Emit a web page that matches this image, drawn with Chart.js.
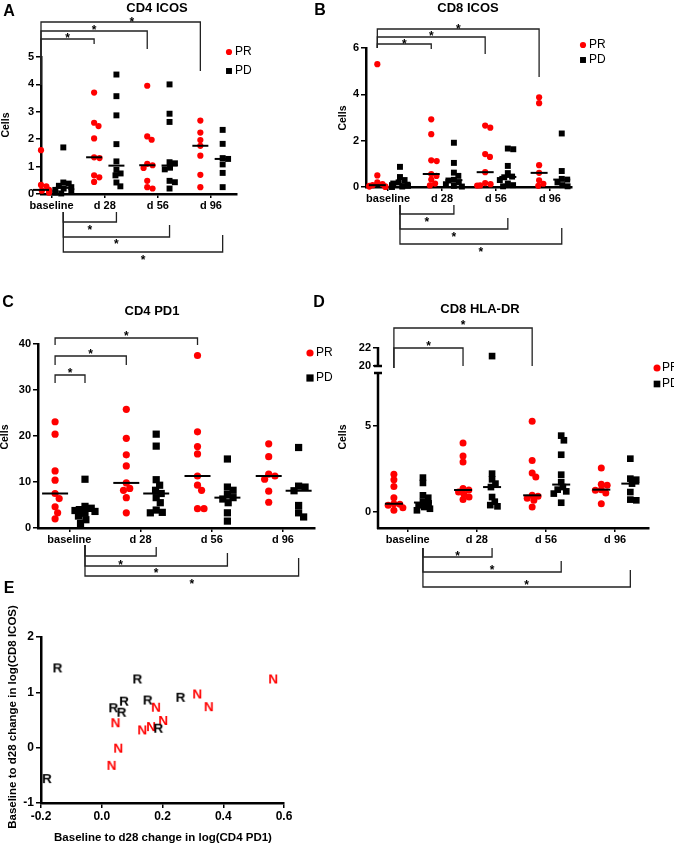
<!DOCTYPE html>
<html><head><meta charset="utf-8">
<script src="https://cdn.jsdelivr.net/npm/chart.js@4/dist/chart.umd.min.js"></script>
<style>
html,body{margin:0;padding:0;background:#fff;}
#wrap{position:relative;width:674px;height:847px;overflow:hidden;background:#fff;}
#wrap canvas{position:absolute;left:0;top:0;}
</style></head><body>
<div id="wrap">
<canvas id="cA" width="674" height="847"></canvas>
<canvas id="cB" width="674" height="847"></canvas>
<canvas id="cC" width="674" height="847"></canvas>
<canvas id="cD" width="674" height="847"></canvas>
<canvas id="cE" width="674" height="847"></canvas>
</div>
<script>
// ---------- DATA ----------
const groups = ['baseline', 'd 28', 'd 56', 'd 96'];

// A: CD4 ICOS (per group: baseline, d28, d56, d96)
const A_PR = [[1.6,0.33,0.28,0.2,0.15,0.12,0.08,0.05,0.02],[3.7,2.6,2.48,2.03,1.34,1.31,0.68,0.61,0.44],[3.95,2.1,1.98,1.1,1.05,0.95,0.48,0.25,0.2],[2.68,2.24,1.97,1.76,1.4,0.7,0.25]];
const A_PD = [[1.7,0.42,0.38,0.3,0.25,0.2,0.15,0.1,0.05,0.02],[4.36,3.57,2.87,1.82,1.19,0.88,0.75,0.68,0.42,0.28],[4.0,2.93,2.63,1.16,1.12,0.96,0.9,0.48,0.43,0.2],[2.34,1.83,1.31,1.28,1.08,0.77,0.25]];
const A_YTICKS = [0,1,2,3,4,5];

// B: CD8 ICOS
const B_PR = [[5.3,0.5,0.2,0.12,0.08,0.05,0.03,0.02,0.0],[2.92,2.28,1.15,1.12,0.56,0.48,0.32,0.15,0.07],[2.65,2.56,1.42,1.3,0.64,0.17,0.12,0.07,0.06],[3.87,3.62,0.94,0.61,0.29,0.14,0.05]];
const B_PD = [[0.87,0.43,0.3,0.2,0.15,0.1,0.08,0.05,0.02,0.0],[1.91,1.04,0.62,0.48,0.31,0.28,0.2,0.12,0.05,0.02],[1.66,1.63,0.91,0.6,0.45,0.42,0.3,0.15,0.08,0.03],[2.31,0.69,0.35,0.32,0.2,0.08,0.03]];
const B_YTICKS = [0,2,4,6];

// C: CD4 PD1
const C_PR = [[23.1,20.4,12.4,10.4,7.5,6.4,4.6,3.3,2.0],[25.8,19.5,15.9,13.5,9.8,8.6,8.2,6.6,3.3],[37.5,20.9,17.7,16.1,11.3,9.3,8.2,4.2,4.2],[18.3,15.5,11.7,11.3,10.6,8.0,5.6]];
const C_PD = [[10.6,4.7,4.3,4.0,3.8,3.6,3.2,2.6,1.8,1.0],[20.4,17.8,10.5,9.3,8.2,7.5,6.6,5.5,3.9,3.4,3.3],[15.0,8.9,8.2,7.3,6.6,6.3,5.5,3.3,1.5],[17.5,9.1,8.9,8.1,4.9,3.3,2.4]];
const C_YTICKS = [0,10,20,30,40];

// D: CD8 HLA-DR (broken axis)
const D_PR = [[2.19,1.88,1.49,0.83,0.48,0.45,0.39,0.25,0.1],[4.01,3.26,2.91,1.36,1.28,1.16,1.03,0.87,0.72],[5.27,3.0,2.27,2.03,0.97,0.91,0.8,0.68,0.29],[2.56,1.61,1.55,1.3,1.26,1.1,0.48]];
const D_PD = [[2.0,1.69,0.97,0.83,0.6,0.5,0.39,0.29,0.19,0.1],[21.1,2.23,1.9,1.65,1.45,0.87,0.6,0.4,0.33],[4.44,4.17,3.33,2.17,1.74,1.45,1.3,1.2,1.07,0.54],[3.1,1.94,1.88,1.65,1.16,0.72,0.68]];
const D_YTICKS_LOW = [0,5];
const D_YTICKS_HIGH = [20,22];

// E: scatter of changes
const E_R_X = [-0.146,0.117,0.073,0.038,0.065,0.151,0.259,0.186,-0.181];
const E_R_Y = [1.45,1.25,0.85,0.73,0.65,0.87,0.92,0.36,-0.55];
const E_N_X = [0.564,0.314,0.352,0.178,0.202,0.162,0.133,0.045,0.054,0.032];
const E_N_Y = [1.25,0.98,0.75,0.74,0.50,0.39,0.33,0.46,0.0,-0.31];
const E_XTICKS = [-0.2,0,0.2,0.4,0.6];
const E_YTICKS = [-1,0,1,2];

// ---------- RENDER ----------
const FONT = "'Liberation Sans', Arial, Helvetica, sans-serif";
const RED = 'rgb(255,0,0)';
const YW = 30, XH = 20, CW = 674, CH = 847;
const PRo = -0.2, PDo = 0.22;
const PR = g => g + PRo, PD = g => g + PDo;
Chart.defaults.animation = false;
Chart.defaults.font.family = FONT;

function median(a){ const s=[...a].sort((x,y)=>x-y); const n=s.length; return n%2? s[(n-1)/2] : (s[n/2-1]+s[n/2])/2; }

// beeswarm-style horizontal spreading (pixel offsets)
function swarm(vals, pyu, d, cap){
  const order = vals.map((v,i)=>i).sort((a,b)=>vals[b]-vals[a]);
  const placed=[]; const off=new Array(vals.length).fill(0);
  for(const i of order){
    const y = vals[i]*pyu; const ivs=[];
    for(const p of placed){ const dy=Math.abs(p.y-y); if(dy<d){ const w=Math.sqrt(d*d-dy*dy); ivs.push([p.x-w,p.x+w]); } }
    const cands=[0]; ivs.forEach(([a,b])=>cands.push(a,b));
    cands.sort((a,b)=>Math.abs(a)-Math.abs(b) || b-a);
    let x=0;
    for(const c of cands){ if(ivs.every(([a,b])=> c<=a+1e-6 || c>=b-1e-6)){ x=c; break; } }
    x=Math.max(-cap,Math.min(cap,x));
    placed.push({x,y}); off[i]=x;
  }
  return off;
}

function pts(arr, side, p, filter){
  const pxu = (p.area.r-p.area.l)/(p.x[1]-p.x[0]);
  const pyu = (p.area.b-p.area.t)/(p.y[1]-p.y[0]);
  const out=[];
  arr.forEach((vals,g)=>{
    const low = vals.filter(v=>v<p.breakAt);
    const off = swarm(low, pyu, p.swarmD, p.swarmCap);
    let k=0;
    vals.forEach(v=>{
      let o=0; if(v<p.breakAt){ o=off[k++]; }
      if(filter(v)) out.push({x:g+side+o/pxu, y:v});
    });
  });
  return out;
}

function decor(p){
  return {id:'decor'+p.letter, afterDraw(chart){
    const ctx=chart.ctx, xs=chart.scales.x;
    ctx.save();
    ctx.fillStyle='#000'; ctx.textAlign='center';
    ctx.font='bold 16px '+FONT; ctx.textBaseline='alphabetic';
    ctx.fillText(p.letter,p.lx,p.ly);
    if(p.title){ ctx.font='bold 13px '+FONT; ctx.fillText(p.title,p.tx,p.ty); }
    if(p.cells){ ctx.save(); ctx.translate(p.cells.x,p.cells.y); ctx.rotate(-Math.PI/2); ctx.font='bold 10.5px '+FONT; ctx.textBaseline='middle'; ctx.fillText('Cells',0,0); ctx.restore(); }
    if(p.legend){
      const L=p.legend;
      ctx.fillStyle=RED; ctx.beginPath(); ctx.arc(L.x,L.y1,p.dot,0,Math.PI*2); ctx.fill();
      ctx.fillStyle='#000'; const s=p.sq*Math.SQRT1_2; ctx.fillRect(L.x-s,L.y2-s,2*s,2*s);
      ctx.font='12px '+FONT; ctx.textAlign='left'; ctx.textBaseline='middle';
      ctx.fillText('PR',L.x+L.gap,L.y1); ctx.fillText('PD',L.x+L.gap,L.y2);
      ctx.textAlign='center';
    }
    ctx.strokeStyle='#222'; ctx.lineWidth=1.3; ctx.fillStyle='#000';
    (p.brackets||[]).forEach(b=>{
      const xa=xs.getPixelForValue(b.a), xb=xs.getPixelForValue(b.b);
      ctx.beginPath(); ctx.moveTo(xa,b.ya); ctx.lineTo(xa,b.y); ctx.lineTo(xb,b.y); ctx.lineTo(xb,b.yb); ctx.stroke();
      const sx=xa+(xb-xa)*(b.sf||0.5);
      ctx.font='bold 12px '+FONT; ctx.textBaseline='alphabetic'; ctx.fillText('*',sx,b.sy+7);
    });
    if(p.broken){
      const yU=chart.scales.y2, yL=chart.scales.y, x=chart.chartArea.left;
      ctx.strokeStyle='#000'; ctx.lineWidth=2.5;
      ctx.beginPath(); ctx.moveTo(x,yU.getPixelForValue(22)-1); ctx.lineTo(x,yU.getPixelForValue(20)); ctx.stroke();
      ctx.beginPath(); ctx.moveTo(x,yL.top); ctx.lineTo(x,chart.chartArea.bottom+1); ctx.stroke();
      ctx.beginPath(); ctx.moveTo(x-4,yU.getPixelForValue(20)); ctx.lineTo(x+4,yU.getPixelForValue(20));
      ctx.moveTo(x-4,yL.top+1); ctx.lineTo(x+4,yL.top+1); ctx.stroke();
    }
    ctx.restore();
  }};
}

function axisY(p, min, max, ticks, extra){
  return Object.assign({type:'linear', position:'left', min, max,
    afterBuildTicks:s=>{ s.ticks=ticks.map(v=>({value:v})); },
    afterFit:s=>{ s.width=YW; },
    border:{display:true,color:'#000',width:2.5},
    grid:{display:true,drawOnChartArea:false,drawTicks:true,tickLength:5,color:'#000',lineWidth:1.5},
    ticks:{color:'#000',font:{family:FONT,size:p.tickFont||11,weight:'bold'},padding:2,autoSkip:false,callback:v=>String(v)}}, extra||{});
}
function axisX(p, ticks, cb){
  return {type:'linear', position:'bottom', min:p.x[0], max:p.x[1],
    afterBuildTicks:s=>{ s.ticks=ticks.map(v=>({value:v})); },
    afterFit:s=>{ s.height=XH; },
    border:{display:true,color:'#000',width:2.5},
    grid:{display:true,drawOnChartArea:false,drawTicks:true,tickLength:p.xTick||4,color:'#000',lineWidth:1.5},
    ticks:{color:'#000',font:{family:FONT,size:p.tickFont||11,weight:'bold'},padding:1,maxRotation:0,autoSkip:false,callback:cb}};
}
function layout(p){
  return {autoPadding:false,padding:{left:p.area.l-YW,top:p.area.t,right:CW-p.area.r,bottom:CH-p.area.b-XH}};
}

function groupChart(p){
  const lowF = v=>v<p.breakAt, highF = v=>v>=p.breakAt;
  const medPR = p.PR.map((v,g)=>({x:PR(g),y:median(v)}));
  const medPD = p.PD.map((v,g)=>({x:PD(g),y:median(v)}));
  const datasets = [
    {data:medPR, pointStyle:'line', pointRadius:p.med, borderColor:'#000', borderWidth:2, backgroundColor:'#000', clip:false},
    {data:medPD, pointStyle:'line', pointRadius:p.med, borderColor:'#000', borderWidth:2, backgroundColor:'#000', clip:false},
    {data:pts(p.PR,PRo,p,lowF), pointStyle:'circle', pointRadius:p.dot, backgroundColor:RED, borderWidth:0, clip:false},
    {data:pts(p.PD,PDo,p,lowF), pointStyle:'rect', pointRadius:p.sq, backgroundColor:'#000', borderWidth:0, clip:false}
  ];
  const scales = {x:axisX(p,[0,1,2,3],v=>groups[Math.round(v)])};
  if(p.broken){
    scales.y = axisY(p,p.y[0],p.y[1],D_YTICKS_LOW,{stack:'d',stackWeight:p.wLow,border:{display:false}});
    scales.y2 = axisY(p,19.33,22,D_YTICKS_HIGH,{stack:'d',stackWeight:p.wHigh,border:{display:false}});
    datasets.push({data:pts(p.PD,PDo,p,highF), yAxisID:'y2', pointStyle:'rect', pointRadius:p.sq, backgroundColor:'#000', borderWidth:0, clip:false});
  } else {
    scales.y = axisY(p,p.y[0],p.y[1],p.yticks);
  }
  new Chart(document.getElementById(p.id),{type:'scatter',data:{datasets},
    options:{responsive:false,devicePixelRatio:1,events:[],layout:layout(p),scales,
      plugins:{legend:{display:false},tooltip:{enabled:false},title:{display:false}}},
    plugins:[decor(p)]});
}

groupChart({id:'cA',letter:'A',lx:9,ly:16,title:'CD4 ICOS',tx:157,ty:12,
  area:{l:41,r:237,t:57,b:194},x:[-0.2,3.49],y:[0,5],yticks:A_YTICKS,PR:A_PR,PD:A_PD,breakAt:Infinity,
  dot:3.1,sq:4.2,med:8,swarmD:5.5,swarmCap:8,cells:{x:6,y:125},legend:{x:229,y1:52,y2:71,gap:6},
  brackets:[
    {a:PR(0),b:PR(1),y:39,ya:85,yb:44,sy:35},{a:PR(0),b:PR(2),y:31,ya:85,yb:49,sy:27},{a:PR(0),b:PR(3),y:22,ya:85,yb:71,sy:19,sf:0.57},
    {a:PD(0),b:PD(1),y:222,ya:212,yb:212,sy:227},{a:PD(0),b:PD(2),y:237,ya:212,yb:225,sy:241},{a:PD(0),b:PD(3),y:252,ya:212,yb:235,sy:257}]});

groupChart({id:'cB',letter:'B',lx:320,ly:15,title:'CD8 ICOS',tx:468,ty:12,
  area:{l:366,r:572,t:48,b:187},x:[-0.41,3.41],y:[0,6],yticks:B_YTICKS,PR:B_PR,PD:B_PD,breakAt:Infinity,
  dot:3.1,sq:4.2,med:8.5,swarmD:5.5,swarmCap:8,cells:{x:343,y:118},legend:{x:583,y1:45,y2:60,gap:6},
  brackets:[
    {a:PR(0),b:PR(1),y:44,ya:48,yb:49,sy:41},{a:PR(0),b:PR(2),y:37,ya:48,yb:54,sy:33},{a:PR(0),b:PR(3),y:29,ya:48,yb:77,sy:26},
    {a:PD(0),b:PD(1),y:214,ya:205,yb:205,sy:219},{a:PD(0),b:PD(2),y:229,ya:205,yb:218,sy:234},{a:PD(0),b:PD(3),y:244,ya:205,yb:228,sy:249}]});

groupChart({id:'cC',letter:'C',lx:8,ly:307,title:'CD4 PD1',tx:152,ty:315,
  area:{l:38,r:315,t:344,b:528},x:[-0.44,3.45],y:[0,40],yticks:C_YTICKS,PR:C_PR,PD:C_PD,breakAt:Infinity,
  dot:3.6,sq:5.1,med:13,swarmD:6.5,swarmCap:10,cells:{x:5,y:437},legend:{x:310,y1:353,y2:378,gap:6},
  brackets:[
    {a:PR(0),b:PD(0),y:375,ya:383,yb:383,sy:370},{a:PR(0),b:PR(1),y:356,ya:365,yb:365,sy:351},{a:PR(0),b:PR(2),y:338,ya:345,yb:345,sy:333},
    {a:PD(0),b:PD(1),y:556,ya:545,yb:547,sy:562},{a:PD(0),b:PD(2),y:566,ya:545,yb:553,sy:570},{a:PD(0),b:PD(3),y:576,ya:545,yb:558,sy:581}]});

groupChart({id:'cD',letter:'D',lx:319,ly:307,title:'CD8 HLA-DR',tx:480,ty:313,
  area:{l:378,r:649,t:348,b:528},x:[-0.43,3.49],y:[-0.93,8.14],PR:D_PR,PD:D_PD,breakAt:20,broken:true,wLow:156,wHigh:24,
  dot:3.5,sq:4.7,med:9,swarmD:6,swarmCap:9,cells:{x:343,y:437},legend:{x:657,y1:368,y2:384,gap:5},
  brackets:[
    {a:PR(0),b:PR(1),y:348,ya:368,yb:366,sy:343},{a:PR(0),b:PR(2),y:328,ya:368,yb:366,sy:322},
    {a:PD(0),b:PD(1),y:557,ya:548,yb:548,sy:553},{a:PD(0),b:PD(2),y:572,ya:548,yb:561,sy:567},{a:PD(0),b:PD(3),y:587,ya:548,yb:570,sy:582}]});

// ---------- Panel E ----------
function letterImg(ch,color){
  const c=document.createElement('canvas'); c.width=18; c.height=18;
  const g=c.getContext('2d'); g.font='bold 13.5px '+FONT; g.fillStyle=color; g.textAlign='center'; g.textBaseline='alphabetic';
  g.fillText(ch,9,9+4.8); return c;
}
(function(){
  const p={area:{l:41,r:284,t:637,b:803},x:[-0.2,0.6],tickFont:12,xTick:5};
  const eDecor={id:'decorE',afterDraw(chart){
    const ctx=chart.ctx; ctx.save(); ctx.fillStyle='#000'; ctx.textAlign='center';
    ctx.font='bold 16px '+FONT; ctx.textBaseline='alphabetic'; ctx.fillText('E',9,593);
    ctx.font='bold 11.5px '+FONT; ctx.textBaseline='middle';
    ctx.fillText('Baseline to d28 change in log(CD4 PD1)',163,838);
    ctx.translate(13,717); ctx.rotate(-Math.PI/2); ctx.fillText('Baseline to d28 change in log(CD8 ICOS)',0,0);
    ctx.restore();
  }};
  new Chart(document.getElementById('cE'),{type:'scatter',
    data:{datasets:[
      {data:E_R_X.map((x,i)=>({x,y:E_R_Y[i]})),pointStyle:letterImg('R','#000'),pointRadius:7,clip:false},
      {data:E_N_X.map((x,i)=>({x,y:E_N_Y[i]})),pointStyle:letterImg('N',RED),pointRadius:7,clip:false}]},
    options:{responsive:false,devicePixelRatio:1,events:[],layout:layout(p),
      scales:{x:axisX(p,E_XTICKS,v=>v.toFixed(1)),y:axisY(p,-1,2,E_YTICKS)},
      plugins:{legend:{display:false},tooltip:{enabled:false}}},
    plugins:[eDecor]});
})();
</script>
</body></html>
